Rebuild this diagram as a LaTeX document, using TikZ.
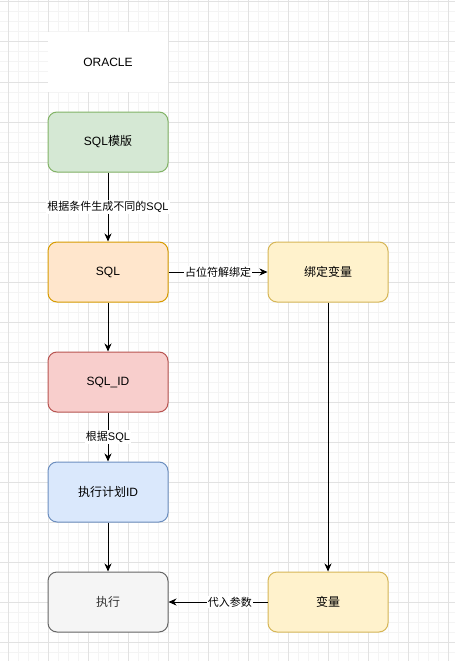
\documentclass[tikz,border=0pt]{standalone}
\usepackage{fontspec}
\setmainfont{Liberation Sans}
\newfontfamily\cjk{Noto Sans CJK SC}
\usepackage{xcolor}
\usetikzlibrary{positioning,arrows.meta}

\definecolor{gridminor}{HTML}{F4F4F4}
\definecolor{gridmajor}{HTML}{E2E2E2}
\definecolor{greenfill}{HTML}{D5E8D4}
\definecolor{greenline}{HTML}{82B366}
\definecolor{orangefill}{HTML}{FFE6CC}
\definecolor{orangeline}{HTML}{D79B00}
\definecolor{yellowfill}{HTML}{FFF2CC}
\definecolor{yellowline}{HTML}{D6B656}
\definecolor{redfill}{HTML}{F8CECC}
\definecolor{redline}{HTML}{B85450}
\definecolor{bluefill}{HTML}{DAE8FC}
\definecolor{blueline}{HTML}{6C8EBF}
\definecolor{grayfill}{HTML}{F5F5F5}
\definecolor{grayline}{HTML}{666666}

\tikzset{
  box/.style={draw, rounded corners=9pt, minimum width=120pt, minimum height=60pt,
    line width=1pt, inner sep=0pt, font=\fontsize{12}{14}\selectfont},
  flow/.style={-{Stealth[length=8pt,width=7pt,inset=2.5pt]}, line width=1pt},
  tag/.style={fill=white, inner sep=1pt, font=\fontsize{11}{13}\selectfont}
}

\begin{document}
\begin{tikzpicture}[x=1pt, y=-1pt]
      \useasboundingbox [fill=white] (0,0) rectangle (455,661);

      \foreach \gx in {8,18,...,448} \draw [gridminor, line width=1pt] (\gx,0) -- (\gx,661);
      \foreach \gy in {2,12,...,652} \draw [gridminor, line width=1pt] (0,\gy) -- (455,\gy);
      \foreach \gx in {8,48,...,448} \draw [gridmajor, line width=1pt] (\gx,0) -- (\gx,661);
      \foreach \gy in {2,42,...,642} \draw [gridmajor, line width=1pt] (0,\gy) -- (455,\gy);

      \coordinate (O) at (108, 62);
      \coordinate (T) at (108, 142);
      \coordinate (S) at (108, 272);
      \coordinate (B) at (328, 272);
      \coordinate (I) at (108, 382);
      \coordinate (P) at (108, 492);
      \coordinate (E) at (108, 602);
      \coordinate (V) at (328, 602);

      \node [fill=white, minimum width=120pt, minimum height=60pt, font=\fontsize{12}{14}\selectfont] (oracle) at (O) {ORACLE};
      \node [box, fill=greenfill, draw=greenline] (tmpl) at (T) {SQL{\cjk 模版}};
      \node [box, fill=orangefill, draw=orangeline] (sql) at (S) {SQL};
      \node [box, fill=yellowfill, draw=yellowline] (bind) at (B) {\cjk 绑定变量};
      \node [box, fill=redfill, draw=redline] (sqlid) at (I) {SQL\_ID};
      \node [box, fill=bluefill, draw=blueline] (plan) at (P) {{\cjk 执行计划}ID};
      \node [box, fill=grayfill, draw=grayline, text=black!80] (exec) at (E) {\cjk 执行};
      \node [box, fill=yellowfill, draw=yellowline] (var) at (V) {\cjk 变量};

      \draw [flow] (tmpl) -- node [tag] {{\cjk 根据条件生成不同的}SQL} (sql);
      \draw [flow] (sql) -- node [tag] {\cjk 占位符解绑定} (bind);
      \draw [flow] (sql) -- (sqlid);
      \draw [flow] (sqlid) -- node [tag] {{\cjk 根据}SQL} (plan);
      \draw [flow] (plan) -- (exec);
      \draw [flow] (bind) -- (var);
      \draw [flow] (var) -- node [tag, pos=0.38] {\cjk 代入参数} (exec);
    \end{tikzpicture}
\end{document}
